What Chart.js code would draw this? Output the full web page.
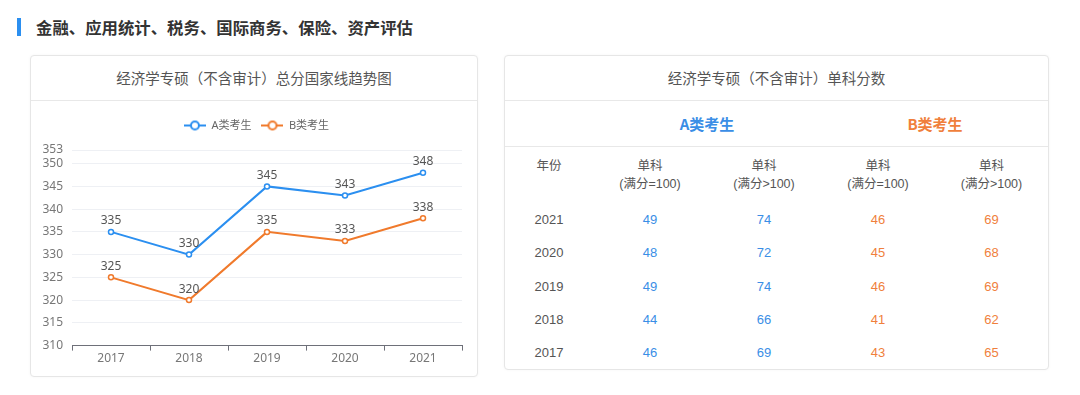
<!DOCTYPE html>
<html>
<head>
<meta charset="utf-8">
<script src="https://cdn.jsdelivr.net/npm/chart.js@4.4.1/dist/chart.umd.min.js"></script>
<style>
	body { margin: 0; background: #fff; font-family: "Noto Sans CJK SC", sans-serif; width: 1080px; height: 395px; position: relative; overflow: hidden; }
	.titulo { position: absolute; left: 17px; top: 17px; height: 20px; }
	.titulo .barra { position: absolute; left: 0; top: 1px; width: 4px; height: 18px; background: #2b8ff0; }
	.titulo span { position: absolute; left: 19px; top: -2px; font-size: 16.4px; font-weight: bold; color: #333; white-space: nowrap; }
	.card { position: absolute; border: 1px solid #e6e6e6; border-radius: 4px; background: #fff; box-shadow: 0 0 3px rgba(0,0,0,0.04); }
	.card .cab { height: 44px; line-height: 44px; text-align: center; font-size: 14.5px; color: #555; border-bottom: 1px solid #e8e8e8; }
	#cardGrafico { left: 30px; top: 55px; width: 446px; height: 320px; }
	#cardTabela { left: 504px; top: 55px; width: 543px; height: 313px; }
	.grafico { position: absolute; left: 0; top: 45px; width: 446px; height: 275px; }
	.tipos { height: 45px; border-bottom: 1px solid #e8e8e8; position: relative; font-size: 15px; font-weight: bold; }
	.tipos span { position: absolute; top: 0; line-height: 45px; width: 228px; text-align: center; }
	table { border-collapse: collapse; table-layout: fixed; width: 543px; font-family: "Liberation Sans", "Noto Sans CJK SC", sans-serif; }
	th { font-weight: normal; font-size: 12.5px; color: #555; line-height: 18px; padding: 10px 0 0 0; height: 46px; vertical-align: top; }
	td { text-align: center; font-size: 13px; height: 33.3px; padding: 0; color: #555; }
	.a { color: #3a8ee6; }
	.b { color: #f07f3c; }
</style>
</head>
<body>
	<div class="titulo"><div class="barra"></div><span>金融、应用统计、税务、国际商务、保险、资产评估</span></div>

	<div class="card" id="cardGrafico">
		<div class="cab">经济学专硕（不含审计）总分国家线趋势图</div>
		<div class="grafico"><canvas id="graficoNotas"></canvas></div>
	</div>

	<div class="card" id="cardTabela">
		<div class="cab">经济学专硕（不含审计）单科分数</div>
		<div class="tipos">
			<span class="a" style="left: 88px;">A类考生</span>
			<span class="b" style="left: 316px;">B类考生</span>
		</div>
		<table id="tabelaNotas">
			<colgroup><col style="width: 88px"><col style="width: 114px"><col style="width: 114px"><col style="width: 114px"><col style="width: 113px"></colgroup>
			<thead><tr>
				<th>年份</th>
				<th>单科<br>(满分=100)</th>
				<th>单科<br>(满分&gt;100)</th>
				<th>单科<br>(满分=100)</th>
				<th>单科<br>(满分&gt;100)</th>
			</tr></thead>
			<tbody></tbody>
		</table>
	</div>

<script>
var anos = ['2017', '2018', '2019', '2020', '2021'];
var notasA = [335, 330, 345, 343, 348];
var notasB = [325, 320, 335, 333, 338];
var ticksY = [310, 315, 320, 325, 330, 335, 340, 345, 350, 353];

var anosTabela = ['2021', '2020', '2019', '2018', '2017'];
var aIgual100 = [49, 48, 49, 44, 46];
var aMaior100 = [74, 72, 74, 66, 69];
var bIgual100 = [46, 45, 46, 41, 43];
var bMaior100 = [69, 68, 69, 62, 65];

var corA = '#2b8ff0';
var corB = '#f07a2c';

// tabela de notas por disciplina
var corpo = document.querySelector('#tabelaNotas tbody');
anosTabela.forEach(function(ano, i) {
	var tr = document.createElement('tr');
	tr.innerHTML = '<td>' + ano + '</td>' +
		'<td class="a">' + aIgual100[i] + '</td>' +
		'<td class="a">' + aMaior100[i] + '</td>' +
		'<td class="b">' + bIgual100[i] + '</td>' +
		'<td class="b">' + bMaior100[i] + '</td>';
	corpo.appendChild(tr);
});

function iconeLegenda(cor) {
	var c = document.createElement('canvas');
	c.width = 22; c.height = 12;
	var g = c.getContext('2d');
	g.strokeStyle = cor;
	g.lineWidth = 2;
	g.beginPath(); g.moveTo(0, 6); g.lineTo(22, 6); g.stroke();
	g.beginPath(); g.arc(11, 6, 4, 0, Math.PI * 2);
	g.fillStyle = '#fff'; g.fill(); g.stroke();
	return c;
}
var icones = [iconeLegenda(corA), iconeLegenda(corB)];

// rotulos de valor acima de cada ponto
var rotulos = {
	id: 'rotulos',
	afterDatasetsDraw: function(chart) {
		var ctx = chart.ctx;
		ctx.save();
		ctx.font = '12px "Noto Sans", "Noto Sans CJK SC"';
		ctx.fillStyle = '#555';
		ctx.textAlign = 'center';
		ctx.textBaseline = 'bottom';
		chart.data.datasets.forEach(function(ds, i) {
			chart.getDatasetMeta(i).data.forEach(function(pt, j) {
				ctx.fillText(ds.data[j], pt.x, pt.y - 5);
			});
		});
		ctx.restore();
	}
};

// espaco extra abaixo da legenda e centralizacao no cartao todo
var ajusteLegenda = {
	id: 'ajusteLegenda',
	beforeUpdate: function(chart) {
		var legenda = chart.legend;
		if (legenda && !legenda._ajustada) {
			var fitOriginal = legenda.fit;
			legenda.fit = function() {
				fitOriginal.call(this);
				this.height += 9;
			};
			legenda._ajustada = true;
		}
	},
	afterLayout: function(chart) {
		if (chart.legend) {
			chart.legend.left += 10;
			chart.legend.right += 10;
		}
	}
};

var fonteLegenda = { family: '"Noto Sans", "Noto Sans CJK SC"', size: 11 };
var fonteEixo = { family: '"Noto Sans", "Noto Sans CJK SC"', size: 12 };

var graficoNotas = new Chart(document.getElementById('graficoNotas'), {
	type: 'line',
	data: {
		labels: anos,
		datasets: [{
			label: 'A类考生',
			data: notasA,
			borderColor: corA,
			backgroundColor: '#fff',
			borderWidth: 2,
			pointRadius: 2.5,
			pointBorderWidth: 1.5,
			pointBackgroundColor: '#fff',
			tension: 0
		}, {
			label: 'B类考生',
			data: notasB,
			borderColor: corB,
			backgroundColor: '#fff',
			borderWidth: 2,
			pointRadius: 2.5,
			pointBorderWidth: 1.5,
			pointBackgroundColor: '#fff',
			tension: 0
		}]
	},
	options: {
		responsive: true,
		maintainAspectRatio: false,
		animation: false,
		events: [],
		layout: { padding: { top: 9, right: 15, bottom: 9, left: 0 } },
		plugins: {
			tooltip: { enabled: false },
			legend: {
				position: 'top',
				labels: {
					usePointStyle: true,
					pointStyleWidth: 22,
					padding: 10,
					color: '#666',
					font: fonteLegenda,
					generateLabels: function(chart) {
						var itens = Chart.defaults.plugins.legend.labels.generateLabels(chart);
						itens.forEach(function(it, i) { it.pointStyle = icones[i]; });
						return itens;
					}
				}
			}
		},
		scales: {
			x: {
				offset: true,
				grid: { display: true, drawOnChartArea: false, drawTicks: true, tickLength: 5, color: '#6e7079', offset: true },
				border: { display: true, color: '#6e7079', width: 1 },
				ticks: { color: '#777', font: fonteEixo, padding: 1 }
			},
			y: {
				min: 310,
				max: 353,
				afterBuildTicks: function(scale) {
					scale.ticks = ticksY.map(function(v) { return { value: v }; });
				},
				afterFit: function(scale) { scale.width = 41; },
				grid: { color: '#eef0f4', drawTicks: false },
				border: { display: false },
				ticks: { color: '#777', font: fonteEixo, padding: 9, autoSkip: false }
			}
		}
	},
	plugins: [rotulos, ajusteLegenda]
});
</script>
</body>
</html>
